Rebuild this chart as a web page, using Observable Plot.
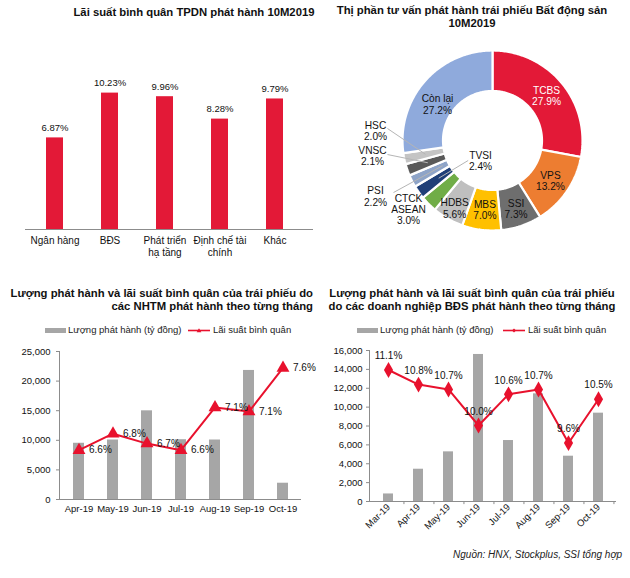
<!DOCTYPE html>
<html><head><meta charset="utf-8">
<script src="https://cdn.jsdelivr.net/npm/d3@7"></script>
<script src="https://cdn.jsdelivr.net/npm/@observablehq/plot@0.6"></script>
<style>
body{margin:0;background:#fff;}
#root{position:relative;width:630px;height:578px;font-family:"Liberation Sans",Arial,sans-serif;color:#111;overflow:hidden;background:#fff}
.abs{position:absolute}
.title{font-weight:bold;font-size:11.3px;line-height:13px;white-space:nowrap;color:#111}
.leg{font-size:9.5px;line-height:12px;white-space:nowrap;color:#222}
.foot{font-size:10px;font-style:italic;line-height:12px;white-space:nowrap;color:#222;text-align:right}
</style></head><body><div id="root"></div>
<script>
// ---------- data ----------
const sectors = ["Ngân hàng", "BĐS", "Phát triển\nhạ tầng", "Định chế tài\nchính", "Khác"];
const sectorRates = [6.87, 10.23, 9.96, 8.28, 9.79];

const advisors = ["TCBS", "VPS", "SSI", "MBS", "HDBS", "CTCK\nASEAN", "TVSI", "PSI", "VNSC", "HSC", "Còn lại"];
const advisorShares = [27.9, 13.2, 7.3, 7.0, 5.6, 3.0, 2.4, 2.2, 2.1, 2.0, 27.2];

const bankMonths = ["Apr-19", "May-19", "Jun-19", "Jul-19", "Aug-19", "Sep-19", "Oct-19"];
const bankVolume = [9500, 10050, 14980, 10100, 10050, 21800, 2750];
const bankRate = [6.6, 6.8, 6.68, 6.6, 7.12, 7.07, 7.6];

const reMonths = ["Mar-19", "Apr-19", "May-19", "Jun-19", "Jul-19", "Aug-19", "Sep-19", "Oct-19"];
const reVolume = [800, 3420, 5260, 15580, 6460, 11410, 4800, 9360];
const reRate = [11.1, 10.8, 10.7, 9.96, 10.6, 10.7, 9.6, 10.5];

// ---------- styles ----------
const FONT = '"Liberation Sans", Arial, sans-serif';
const RED = "#E31937", LINE_RED = "#E8112D", GRAY = "#A6A6A6";
const donutColors = ["#E31937", "#ED7D31", "#6E6E6E", "#FFC000", "#BFBFBF", "#70AD47", "#1F3F77", "#8EA4C8", "#595959", "#C4C4C4", "#8FAADC"];
const baseStyle = {background: "transparent", overflow: "visible", fontFamily: FONT, fontSize: "10px", color: "#111"};
const thousands = d3.format(",");

const root = document.getElementById("root");
function place(el, left, top) {
  const d = document.createElement("div");
  d.className = "abs"; d.style.left = left + "px"; d.style.top = top + "px";
  d.appendChild(el); root.appendChild(d); return d;
}
function addHTML(html, cls, left, top, width, align) {
  const d = document.createElement("div");
  d.className = "abs " + cls; d.innerHTML = html;
  d.style.left = left + "px"; d.style.top = top + "px";
  if (width != null) d.style.width = width + "px";
  if (align) d.style.textAlign = align;
  root.appendChild(d); return d;
}

// ---------- titles ----------
addHTML("Lãi suất bình quân TPDN phát hành 10M2019", "title", -6, 5.5, 400, "center");
addHTML("Thị phần tư vấn phát hành trái phiếu Bất động sản<br>10M2019", "title", 322, 3.5, 300, "center");
addHTML("Lượng phát hành và lãi suất bình quân của trái phiếu do<br>các NHTM phát hành theo từng tháng", "title", 0, 286.5, 313, "right");
addHTML("Lượng phát hành và lãi suất bình quân của trái phiếu<br>do các doanh nghiệp BĐS phát hành theo từng tháng", "title", 322, 286.5, 300, "center");
addHTML("Nguồn: HNX, Stockplus, SSI tổng hợp", "foot", 322, 549, 300, "right");

// ---------- legends ----------
function legend(x0, xLine, marker) {
  const barSw = `<svg class="abs" style="left:${x0}px;top:${327.5}px" width="21" height="5"><rect width="21" height="5" fill="${GRAY}"/></svg>`;
  const mk = marker === "triangle"
    ? `<path d="M11,1.2 L13.4,5.2 L8.6,5.2 Z" fill="${LINE_RED}"/>`
    : `<path d="M11,1.5 L13,3.5 L11,5.5 L9,3.5 Z" fill="${LINE_RED}"/>`;
  const lineSw = `<svg class="abs" style="left:${xLine}px;top:${326.5}px" width="22" height="7"><line x1="0" x2="22" y1="3.5" y2="3.5" stroke="${LINE_RED}" stroke-width="1.6"/>${mk}</svg>`;
  root.insertAdjacentHTML("beforeend", barSw + lineSw);
  addHTML("Lượng phát hành (tỷ đồng)", "leg", x0 + 23, 324);
  addHTML("Lãi suất bình quân", "leg", xLine + 25, 324);
}
legend(45, 188, "triangle");
legend(357, 503, "diamond");

// ---------- panel 1: bar chart ----------
const d1 = sectors.map((s, i) => ({s, v: sectorRates[i]}));
const p1 = Plot.plot({
  width: 315, height: 240, marginLeft: 25, marginRight: 2, marginTop: 39, marginBottom: 41,
  style: baseStyle,
  x: {domain: sectors, padding: 0.7, paddingOuter: 0.433, align: 0.4, label: null},
  y: {domain: [0, 12], axis: null},
  marks: [
    Plot.barY(d1, {x: "s", y: "v", fill: RED}),
    Plot.ruleY([0], {stroke: "#8c8c8c"}),
    Plot.text(d1, {x: "s", y: "v", text: d => d.v.toFixed(2) + "%", dy: -10, fontSize: 9.5, fill: "#111"}),
    Plot.axisX({tickSize: 0, tickPadding: 6, fontSize: 10, lineHeight: 1.2, label: null, fill: "#111"})
  ]
});
place(p1, 0, 30);

// ---------- panel 2: donut ----------
const total = d3.sum(advisorShares);
let acc = 0;
const slices = advisors.map((name, i) => {
  const a0 = acc / total * 2 * Math.PI; acc += advisorShares[i];
  const a1 = acc / total * 2 * Math.PI;
  return {name, share: advisorShares[i], a0, a1, mid: (a0 + a1) / 2};
});
const R0 = 0.55, R1 = 1, PX = 90; // PX = pixels per donut unit
const ring = slices.flatMap(s => {
  const n = Math.max(3, Math.ceil((s.a1 - s.a0) / 0.015));
  const pts = [];
  for (let k = 0; k <= n; k++) { const a = s.a0 + (s.a1 - s.a0) * k / n; pts.push({name: s.name, x: R1 * Math.sin(a), y: R1 * Math.cos(a)}); }
  for (let k = n; k >= 0; k--) { const a = s.a0 + (s.a1 - s.a0) * k / n; pts.push({name: s.name, x: R0 * Math.sin(a), y: R0 * Math.cos(a)}); }
  pts.push({...pts[0]});
  return pts;
});
// label layout (annotation placement): inside labels on polar radius with pixel nudges; outside labels at explicit anchors
const inside = {"TCBS": {r: 0.78, dx: 0, dy: 0, fill: "#fff"}, "VPS": {r: 0.78, dx: 0, dy: 1}, "SSI": {r: 0.78, dx: 1, dy: 2},
  "MBS": {r: 0.78, dx: 1, dy: 0}, "HDBS": {r: 0.78, dx: -3, dy: 7}, "Còn lại": {r: 0.78, dx: -2, dy: 10}};
const outside = {"CTCK\nASEAN": {at: [-0.933, -0.767]},
  "TVSI": {at: [-0.133, -0.228], lead: [-0.27, -0.222], r: 0.73},
  "PSI": {at: [-1.30, -0.622], lead: [-1.10, -0.578], r: 0.62},
  "VNSC": {at: [-1.333, -0.167], lead: [-1.167, -0.156], r: 0.76},
  "HSC": {at: [-1.30, 0.11], lead: [-1.167, 0.133], r: 0.76}};
const labels = slices.map(s => {
  const txt = s.name + "\n" + s.share.toFixed(1) + "%";
  if (inside[s.name]) {
    const L = inside[s.name];
    return {txt, x: L.r * Math.sin(s.mid) + L.dx / PX, y: L.r * Math.cos(s.mid) - L.dy / PX, fill: L.fill || "#111"};
  }
  const L = outside[s.name];
  return {txt, x: L.at[0], y: L.at[1], fill: "#111"};
});
const leaders = slices.filter(s => outside[s.name] && outside[s.name].lead).map(s => {
  const L = outside[s.name];
  return {x1: L.lead[0], y1: L.lead[1], x2: L.r * Math.sin(s.mid), y2: L.r * Math.cos(s.mid)};
});
const p2 = Plot.plot({
  width: 315, height: 210, margin: 0,
  style: baseStyle,
  x: {domain: [-177 / PX, 138 / PX], axis: null},
  y: {domain: [-105 / PX, 105 / PX], axis: null},
  color: {domain: advisors, range: donutColors},
  marks: [
    Plot.line(ring, {x: "x", y: "y", z: "name", fill: "name", stroke: "white", strokeWidth: 2.2, strokeLinejoin: "miter"}),
    Plot.link(leaders, {x1: "x1", y1: "y1", x2: "x2", y2: "y2", stroke: "#b5b5b5", strokeWidth: 1}),
    Plot.text(labels, {x: "x", y: "y", text: "txt", fill: "fill", fontSize: 10.2, lineHeight: 1.1})
  ]
});
place(p2, 315, 35);

// ---------- panel 3: NHTM ----------
const sec3 = d3.scaleLinear([6.0, 7.8], [0, 25000]);
const d3data = bankMonths.map((m, i) => ({m, v: bankVolume[i], r: bankRate[i]}));
const p3 = Plot.plot({
  width: 315, height: 180, marginLeft: 59, marginRight: 14, marginTop: 11, marginBottom: 21,
  style: baseStyle,
  x: {domain: bankMonths, padding: 0.685, paddingOuter: 0.3425, label: null},
  y: {domain: [0, 25000], label: null},
  marks: [
    Plot.barY(d3data, {x: "m", y: "v", fill: GRAY}),
    Plot.ruleY([0], {stroke: "#8c8c8c"}),
    Plot.frame({anchor: "left", stroke: "#8c8c8c"}),
    Plot.axisY({ticks: d3.range(0, 25001, 5000), tickFormat: thousands, tickSize: 3, tickPadding: 6, fontSize: 9.5, label: null, stroke: "#8c8c8c", fill: "#111"}),
    Plot.axisX({tickSize: 0, tickPadding: 6, fontSize: 9.5, label: null, fill: "#111"}),
    Plot.line(d3data, {x: "m", y: d => sec3(d.r), stroke: LINE_RED, strokeWidth: 2}),
    Plot.dot(d3data, {x: "m", y: d => sec3(d.r), symbol: "triangle", fill: LINE_RED, r: 4.8}),
    Plot.text(d3data, {x: "m", y: d => sec3(d.r), text: d => d.r.toFixed(1) + "%", dx: 10, textAnchor: "start", fontSize: 10, fill: "#111"})
  ]
});
place(p3, 0, 340);

// ---------- panel 4: BĐS ----------
const sec4 = d3.scaleLinear([8.4, 11.5], [0, 16000]);
const d4 = reMonths.map((m, i) => ({m, v: reVolume[i], r: reRate[i]}));
const step4 = 247 / reMonths.length;
const p4 = Plot.plot({
  width: 315, height: 210, marginLeft: 54, marginRight: 14, marginTop: 10, marginBottom: 49,
  style: baseStyle,
  x: {domain: reMonths, padding: 0.68, paddingOuter: 0.34, label: null},
  y: {domain: [0, 16000], label: null},
  marks: [
    Plot.barY(d4, {x: "m", y: "v", fill: GRAY}),
    Plot.ruleY([0], {stroke: "#8c8c8c"}),
    Plot.frame({anchor: "left", stroke: "#8c8c8c"}),
    Plot.ruleX(d4, {x: "m", dx: step4 / 2, y1: 0, y2: -330, stroke: "#8c8c8c"}),
    Plot.axisY({ticks: d3.range(0, 16001, 2000), tickFormat: thousands, tickSize: 3, tickPadding: 4, fontSize: 9.5, label: null, stroke: "#8c8c8c", fill: "#111"}),
    Plot.axisX({tickSize: 0, tickPadding: 4, tickRotate: -45, fontSize: 9.5, label: null, fill: "#111"}),
    Plot.line(d4, {x: "m", y: d => sec4(d.r), stroke: LINE_RED, strokeWidth: 2}),
    Plot.dot(d4, {x: "m", y: d => sec4(d.r), symbol: "diamond", fill: LINE_RED, r: 4.8}),
    Plot.text(d4, {x: "m", y: d => sec4(d.r), text: d => d.r.toFixed(1) + "%", dy: -14, fontSize: 10, fill: "#111"})
  ]
});
place(p4, 315, 340);
</script></body></html>
